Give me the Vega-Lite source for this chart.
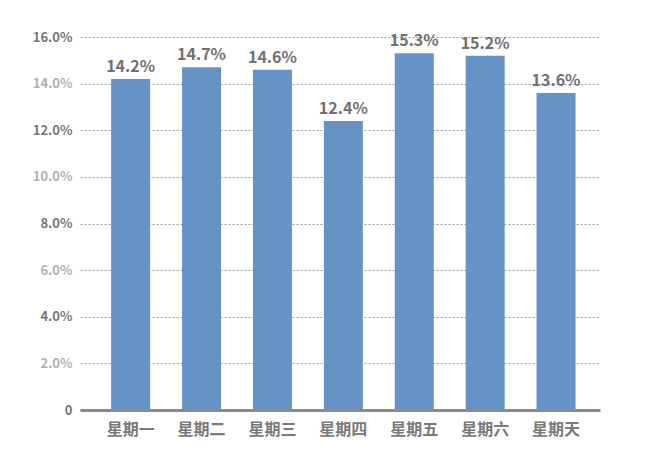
{
  "$schema": "https://vega.github.io/schema/vega-lite/v6.json",
  "autosize": "none",
  "width": 520,
  "height": 373,
  "padding": {"left": 80, "top": 37, "right": 50, "bottom": 54},
  "background": "white",
  "config": {
    "view": {"stroke": null},
    "font": "Noto Sans CJK SC"
  },
  "data": {
    "values": [
      {"day": "星期一", "share": 0.142},
      {"day": "星期二", "share": 0.147},
      {"day": "星期三", "share": 0.146},
      {"day": "星期四", "share": 0.124},
      {"day": "星期五", "share": 0.153},
      {"day": "星期六", "share": 0.152},
      {"day": "星期天", "share": 0.136}
    ]
  },
  "encoding": {
    "x": {
      "field": "day",
      "type": "nominal",
      "sort": null,
      "title": null,
      "scale": {"paddingInner": 0.45, "paddingOuter": 0.392, "align": 0.56},
      "axis": {
        "labelAngle": 0,
        "labelFont": "Noto Sans CJK SC",
        "labelFontSize": 16,
        "labelFontWeight": "bold",
        "labelColor": "#7a7a7a",
        "labelPadding": 11,
        "ticks": false,
        "domainColor": "#8a8a8a",
        "domainWidth": 3
      }
    },
    "y": {
      "field": "share",
      "type": "quantitative",
      "title": null,
      "scale": {"domain": [0, 0.16], "nice": false},
      "axis": {
        "values": [0, 0.02, 0.04, 0.06, 0.08, 0.1, 0.12, 0.14, 0.16],
        "labelExpr": "datum.value == 0 ? '0' : format(datum.value, '.1%')",
        "labelFontSize": 13,
        "labelFontWeight": "bold",
        "labelColor": {"condition": {"test": "round(datum.value * 100) % 4 == 0", "value": "#767676"}, "value": "#b0b0b0"},
        "labelPadding": 8,
        "ticks": false,
        "domain": false,
        "gridColor": "#9a9a9a",
        "gridDash": [2, 2],
        "gridWidth": 1
      }
    }
  },
  "layer": [
    {
      "mark": {"type": "bar", "color": "#6593c6"}
    },
    {
      "mark": {
        "type": "text",
        "baseline": "bottom",
        "dy": -4,
        "fontSize": 16,
        "fontWeight": "bold",
        "color": "#707070"
      },
      "encoding": {
        "text": {"field": "share", "type": "quantitative", "format": ".1%"}
      }
    }
  ]
}
